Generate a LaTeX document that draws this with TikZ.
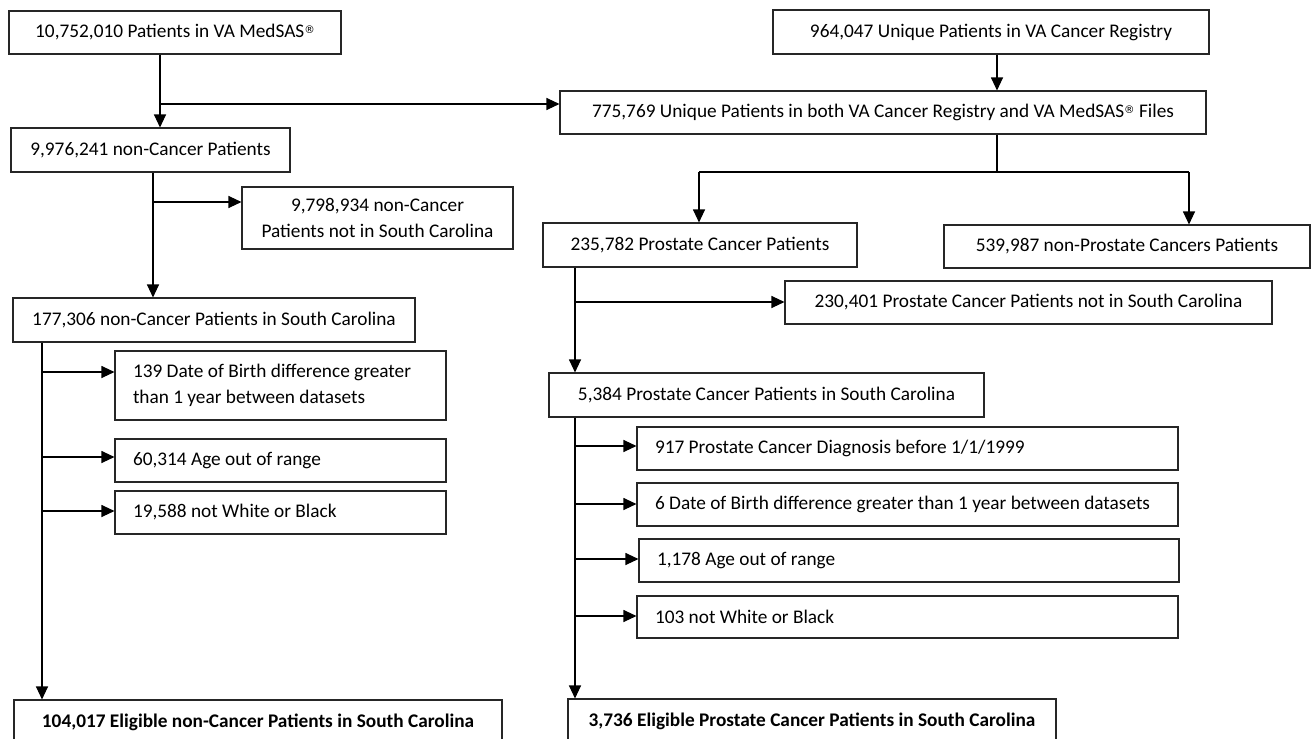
\documentclass[tikz,border=0pt]{standalone}
\usepackage{fontspec}
\setmainfont{Carlito}
\newfontfamily\regfont{DejaVu Sans}
\newcommand{\regmark}{\raisebox{4.3pt}{\fontsize{10.5}{10.5}\selectfont\regfont ®}}
\usetikzlibrary{arrows.meta,calc}
\begin{document}
\begin{tikzpicture}[x=1pt,y=-1pt,
  box/.style={draw=black!85, line width=1.1pt, inner sep=0pt, align=center,
              font=\fontsize{19.3}{25.5}\selectfont},
  lbox/.style={box, align=flush left, inner xsep=18pt},
  bbox/.style={box, font=\fontsize{19.3}{25.5}\selectfont\bfseries},
  arr/.style={line width=1.1pt, -{Triangle[length=13pt,width=12pt]}},
  ln/.style={line width=1.1pt}]
\useasboundingbox (0,0) rectangle (1312,739);
\fill[white] (0,0) rectangle (1312,739);

% left column
\node[box, minimum width=332pt, minimum height=43pt] (A) at (175,32.5) {10,752,010 Patients in VA MedSAS\regmark};
\node[box, minimum width=279pt, minimum height=44pt] (D) at (150.5,150) {9,976,241 non-Cancer Patients};
\node[box, minimum width=271pt, minimum height=62pt] (E) at (377.5,218) {9,798,934 non-Cancer\\Patients not in South Carolina};
\node[box, minimum width=402pt, minimum height=44pt] (F) at (214,320) {177,306 non-Cancer Patients in South Carolina};
\node[lbox, text width=295pt, minimum height=69pt] (G) at (280.5,385.5) {139 Date of Birth difference greater\\than 1 year between datasets};
\node[lbox, text width=295pt, minimum height=43pt] (H) at (280.5,460.5) {60,314 Age out of range};
\node[lbox, text width=295pt, minimum height=43pt] (I) at (280.5,512.5) {19,588 not White or Black};
\node[bbox, minimum width=488pt, minimum height=44pt] (J) at (258,722) {104,017 Eligible non-Cancer Patients in South Carolina};

% right column
\node[box, minimum width=436pt, minimum height=44pt] (B) at (991,32) {964,047 Unique Patients in VA Cancer Registry};
\node[box, minimum width=646pt, minimum height=43pt] (C) at (883,112.5) {775,769 Unique Patients in both VA Cancer Registry and VA MedSAS\regmark\ Files};
\node[box, minimum width=314pt, minimum height=44pt] (K) at (700,245) {235,782 Prostate Cancer Patients};
\node[box, minimum width=366pt, minimum height=43pt] (L) at (1127,246.5) {539,987 non-Prostate Cancers Patients};
\node[box, minimum width=487pt, minimum height=43pt] (M) at (1028.5,302.5) {230,401 Prostate Cancer Patients not in South Carolina};
\node[box, minimum width=435pt, minimum height=44pt] (N) at (766.5,395) {5,384 Prostate Cancer Patients in South Carolina};
\node[lbox, text width=505pt, minimum height=43pt] (O) at (907.5,448.5) {917 Prostate Cancer Diagnosis before 1/1/1999};
\node[lbox, text width=505pt, minimum height=43pt] (P) at (907.5,504.5) {6 Date of Birth difference greater than 1 year between datasets};
\node[lbox, text width=504pt, minimum height=43pt] (Q) at (909,560.5) {1,178 Age out of range};
\node[lbox, text width=505pt, minimum height=42pt] (R) at (907.5,617) {103 not White or Black};
\node[bbox, minimum width=488pt, minimum height=44pt] (S) at (812,721) {3,736 Eligible Prostate Cancer Patients in South Carolina};

% left connectors
\coordinate (jA) at (160,104);
\draw[ln] (A.south -| jA) -- (jA);
\draw[arr] (jA) -- (D.north -| jA);
\draw[arr] (jA) -- (C.west |- jA);

\coordinate (jD) at (153,202);
\draw[arr] (D.south -| jD) -- (F.north -| jD);
\draw[arr] (jD) -- (E.west |- jD);

\coordinate (jF) at (42,372);
\draw[arr] (F.south -| jF) -- (J.north -| jF);
\draw[arr] (jF) -- (G.west |- jF);
\coordinate (jH) at (42,457);
\draw[arr] (jH) -- (H.west |- jH);
\coordinate (jI) at (42,511);
\draw[arr] (jI) -- (I.west |- jI);

% right connectors
\coordinate (jB) at (997,172);
\draw[arr] (B.south -| jB) -- (C.north -| jB);
\draw[ln] (C.south -| jB) -- (jB);
\coordinate (kL) at (699,172);
\coordinate (kR) at (1189,172);
\draw[ln] (kL) -- (kR);
\draw[arr] (kL) -- (K.north -| kL);
\draw[arr] (kR) -- (L.north -| kR);

\coordinate (jK) at (575,302);
\draw[arr] (K.south -| jK) -- (N.north -| jK);
\draw[arr] (jK) -- (M.west |- jK);

\coordinate (jO) at (575,446);
\draw[arr] (N.south -| jO) -- (S.north -| jO);
\draw[arr] (jO) -- (O.west |- jO);
\coordinate (jP) at (575,504);
\draw[arr] (jP) -- (P.west |- jP);
\coordinate (jQ) at (575,559);
\draw[arr] (jQ) -- (Q.west |- jQ);
\coordinate (jR) at (575,616);
\draw[arr] (jR) -- (R.west |- jR);
\end{tikzpicture}
\end{document}
